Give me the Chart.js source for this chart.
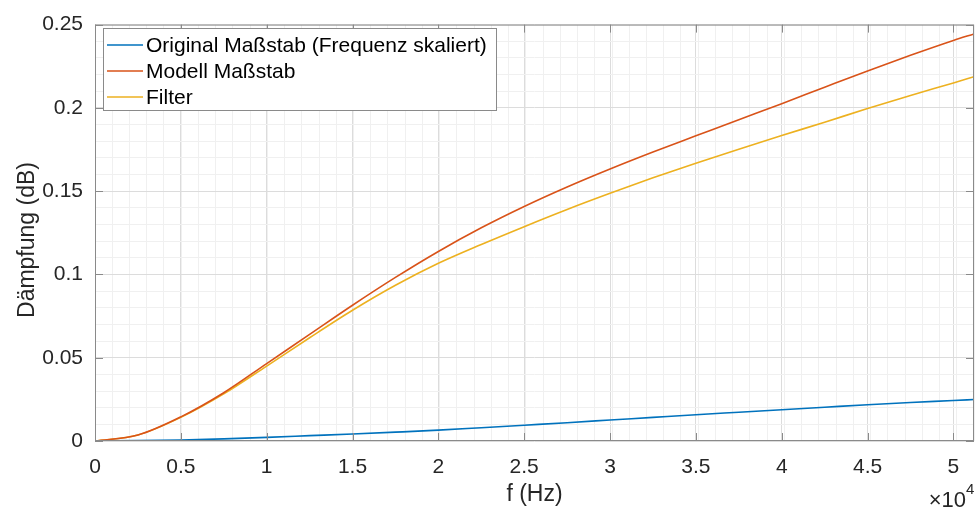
<!DOCTYPE html>
<html><head><meta charset="utf-8">
<script src="https://cdn.jsdelivr.net/npm/chart.js@4/dist/chart.umd.min.js"></script>
<style>html,body{margin:0;padding:0;background:#fff}#wrap{width:976px;height:513px;position:relative}canvas{display:block}</style>
</head><body><div id="wrap"><canvas id="c" width="976" height="513"></canvas></div>
<script>
const freqHz = [0,2500,5000,7500,10000,12500,15000,17500,20000,22500,25000,27500,30000,32500,35000,37500,40000,42500,45000,47500,50000,51200];
const originalScaled = [0,0.0002,0.0006,0.0013,0.0022,0.0032,0.0042,0.0053,0.0065,0.0080,0.0095,0.0110,0.0126,0.0142,0.0158,0.0173,0.0188,0.0203,0.0218,0.0231,0.0243,0.0249];
const modelScale = [0,0.0036,0.0145,0.029,0.0465,0.064,0.0815,0.0982,0.1138,0.1280,0.1408,0.1525,0.1633,0.1735,0.1832,0.1929,0.2025,0.2124,0.2222,0.2316,0.2405,0.2444];
const filterData = [0,0.0036,0.0142,0.0283,0.0450,0.0620,0.0785,0.0935,0.1067,0.1180,0.1287,0.1390,0.1487,0.1580,0.1668,0.1752,0.1834,0.1914,0.1996,0.2074,0.2150,0.2187];
const seriesNames = ['Original Maßstab (Frequenz skaliert)','Modell Maßstab','Filter'];
const seriesColors = ['#0072BD','#D95319','#EDB120'];
const xMajorTicks = [0,5000,10000,15000,20000,25000,30000,35000,40000,45000,50000];
const yMajorTicks = [0,0.05,0.1,0.15,0.2,0.25];
const xTitle = 'f (Hz)';
const yTitle = 'Dämpfung (dB)';
const xExponent = '4';

const FONT = 'Arial, "Liberation Sans", Helvetica, sans-serif';
const isMajorY = v => Math.abs(v/0.05 - Math.round(v/0.05)) < 1e-6;

const decor = {
  id: 'decor',
  afterDraw(chart) {
    const ctx = chart.ctx, a = chart.chartArea, xs = chart.scales.x, ys = chart.scales.y;
    ctx.save();
    ctx.strokeStyle = '#8a8a8a';
    ctx.lineWidth = 1;
    ctx.strokeRect(a.left + 0.5, a.top + 0.5, a.right - a.left - 1, a.bottom - a.top - 1);
    const L = 8;
    ctx.beginPath();
    xMajorTicks.forEach(v => {
      const px = Math.round(xs.getPixelForValue(v)) + 0.5;
      ctx.moveTo(px, a.bottom); ctx.lineTo(px, a.bottom - L);
      ctx.moveTo(px, a.top); ctx.lineTo(px, a.top + L);
    });
    yMajorTicks.forEach(v => {
      const py = Math.round(ys.getPixelForValue(v)) + 0.5;
      ctx.moveTo(a.left, py); ctx.lineTo(a.left + L, py);
      ctx.moveTo(a.right, py); ctx.lineTo(a.right - L, py);
    });
    ctx.stroke();
    ctx.fillStyle = '#262626';
    ctx.font = '23px ' + FONT;
    ctx.textAlign = 'center'; ctx.textBaseline = 'middle';
    ctx.fillText(xTitle, (a.left + a.right) / 2, 495);
    ctx.save();
    ctx.translate(28, 240); ctx.rotate(-Math.PI / 2);
    ctx.fillText(yTitle, 0, 0);
    ctx.restore();
    ctx.font = '22px ' + FONT;
    ctx.textAlign = 'right'; ctx.textBaseline = 'middle';
    ctx.fillText('\u00d710', 966, 501);
    ctx.font = '15px ' + FONT;
    ctx.textAlign = 'left';
    ctx.fillText(xExponent, 966, 490);
    const lx = 103, ly = 28, lw = 393, lh = 82;
    ctx.fillStyle = '#ffffff';
    ctx.fillRect(lx, ly, lw, lh);
    ctx.strokeStyle = '#8a8a8a';
    ctx.strokeRect(lx + 0.5, ly + 0.5, lw, lh);
    ctx.font = '21px ' + FONT;
    ctx.textBaseline = 'middle'; ctx.textAlign = 'left';
    seriesNames.forEach((n, i) => {
      const yy = 45 + i * 26;
      ctx.strokeStyle = seriesColors[i]; ctx.lineWidth = 1.5;
      ctx.beginPath(); ctx.moveTo(107, yy); ctx.lineTo(143, yy); ctx.stroke();
      ctx.fillStyle = '#000';
      ctx.fillText(n, 146, yy + 1);
    });
    ctx.restore();
  }
};

const mk = (d) => freqHz.map((f, i) => ({x: f, y: d[i]}));
new Chart(document.getElementById('c'), {
  type: 'line',
  data: {
    datasets: [
      {label: seriesNames[0], data: mk(originalScaled), borderColor: seriesColors[0]},
      {label: seriesNames[1], data: mk(modelScale), borderColor: seriesColors[1]},
      {label: seriesNames[2], data: mk(filterData), borderColor: seriesColors[2]}
    ].map(d => Object.assign(d, {xAxisID: 'x', yAxisID: 'y', borderWidth: 1.6, pointRadius: 0, cubicInterpolationMode: 'monotone', fill: false}))
  },
  options: {
    responsive: false, animation: false, devicePixelRatio: 1,
    layout: {padding: {top: 17, right: 2, left: 0, bottom: 0}},
    plugins: {legend: {display: false}, tooltip: {enabled: false}},
    scales: {
      xMinor: {
        type: 'linear', position: 'bottom', min: 0, max: 51200, weight: 2,
        afterFit: s => { s.height = 0; },
        border: {display: false},
        grid: {drawTicks: false, color: '#f0f0f0', lineWidth: 1},
        ticks: {stepSize: 1000, display: false, autoSkip: false, maxTicksLimit: 100}
      },
      x: {
        type: 'linear', position: 'bottom', min: 0, max: 51200, weight: 1,
        afterFit: s => { s.height = 72; },
        border: {display: false},
        grid: {drawTicks: false, color: '#dcdcdc', lineWidth: 1},
        afterBuildTicks: s => { s.ticks = xMajorTicks.map(v => ({value: v})); },
        ticks: {autoSkip: false, maxRotation: 0, minRotation: 0, padding: 14, color: '#262626', font: {size: 21, family: FONT},
          callback: v => String(+(v / 10000).toFixed(1))}
      },
      y: {
        min: 0, max: 0.25,
        afterFit: s => { s.width = 95; },
        border: {display: false},
        grid: {drawTicks: false, color: c => isMajorY(c.tick.value) ? '#dcdcdc' : '#f0f0f0', lineWidth: 1},
        ticks: {stepSize: 0.01, autoSkip: false, padding: 12, color: '#262626', font: {size: 21, family: FONT},
          callback: v => isMajorY(v) ? String(+v.toFixed(2)) : ''}
      }
    }
  },
  plugins: [decor]
});
</script></body></html>
